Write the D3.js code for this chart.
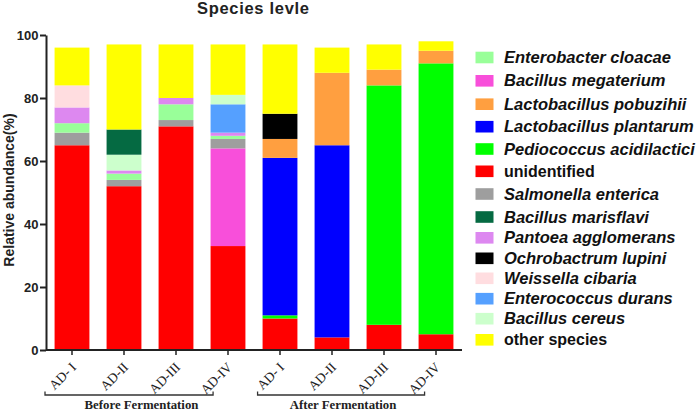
<!DOCTYPE html>
<html><head><meta charset="utf-8">
<script src="https://cdn.jsdelivr.net/npm/d3@7"></script>
<style>body{margin:0;background:#fff}svg{display:block}</style>
</head><body><svg id="c" width="700" height="411"></svg>
<script>
const samples = ["b1","b2","b3","b4","a1","a2","a3","a4"];
const sampleLabels = ["AD- I","AD-II","AD-III","AD-IV","AD- I","AD-II","AD-III","AD-IV"];
const groupLabels = ["Before Fermentation","After Fermentation"];
const yTicks = [0,20,40,60,80,100];

// stack order bottom -> top
const stackOrder = ["unidentified","Pediococcus acidilactici","Lactobacillus plantarum","Bacillus megaterium",
  "Salmonella enterica","Enterobacter cloacae","Pantoea agglomerans","Enterococcus durans","Bacillus cereus",
  "Bacillus marisflavi","Lactobacillus pobuzihii","Ochrobactrum lupini","Weissella cibaria","other species"];

const unidentified = [65,52,71,33,10,4,8,5];
const pediococcus  = [0,0,0,0,1,0,76,86];
const plantarum    = [0,0,0,0,50,61,0,0];
const megaterium   = [0,0,0,31,0,0,0,0];
const salmonella   = [4,2,2,3,0,0,0,0];
const enterobacter = [3,2,5,1,0,0,0,0];
const pantoea      = [5,1,2,1,0,0,0,0];
const enterococcus = [0,0,0,9,0,0,0,0];
const cereus       = [0,5,0,3,0,0,0,0];
const marisflavi   = [0,8,0,0,0,0,0,0];
const pobuzihii    = [0,0,0,0,6,23,5,4];
const ochrobactrum = [0,0,0,0,8,0,0,0];
const weissella    = [7,0,0,0,0,0,0,0];
const other        = [12,27,17,16,22,8,8,3];

const seriesValues = {
  "unidentified": unidentified, "Pediococcus acidilactici": pediococcus, "Lactobacillus plantarum": plantarum,
  "Bacillus megaterium": megaterium, "Salmonella enterica": salmonella, "Enterobacter cloacae": enterobacter,
  "Pantoea agglomerans": pantoea, "Enterococcus durans": enterococcus, "Bacillus cereus": cereus,
  "Bacillus marisflavi": marisflavi, "Lactobacillus pobuzihii": pobuzihii, "Ochrobactrum lupini": ochrobactrum,
  "Weissella cibaria": weissella, "other species": other
};

const legendOrder = ["Enterobacter cloacae","Bacillus megaterium","Lactobacillus pobuzihii","Lactobacillus plantarum",
  "Pediococcus acidilactici","unidentified","Salmonella enterica","Bacillus marisflavi","Pantoea agglomerans",
  "Ochrobactrum lupini","Weissella cibaria","Enterococcus durans","Bacillus cereus","other species"];
const nonItalic = ["unidentified","other species"];

const colors = {
  "Enterobacter cloacae":"#99FF99","Bacillus megaterium":"#F84FDA","Lactobacillus pobuzihii":"#FF9F40",
  "Lactobacillus plantarum":"#0000FF","Pediococcus acidilactici":"#00FF00","unidentified":"#FF0000",
  "Salmonella enterica":"#9E9E9E","Bacillus marisflavi":"#056A42","Pantoea agglomerans":"#DD88F0",
  "Ochrobactrum lupini":"#000000","Weissella cibaria":"#FFDDE0","Enterococcus durans":"#55A0FF",
  "Bacillus cereus":"#CCFFCC","other species":"#FFFF00"
};

const SANS = "'Liberation Sans', Arial, Helvetica, sans-serif";
const SERIF = "'Liberation Serif', 'Times New Roman', serif";

const svg = d3.select("#c");
const x0 = 46, x1 = 462, yTop = 35, yBot = 350;
const x = d3.scaleBand().domain(samples).range([x0, x1]).paddingInner(0.33).paddingOuter(0.165);
const y = d3.scaleLinear().domain([0,100]).range([yBot, yTop]);

const table = samples.map((s,i) => { const o = {sample:s}; stackOrder.forEach(k => o[k] = seriesValues[k][i]); return o; });
const stacked = d3.stack().keys(stackOrder)(table);

svg.append("g").selectAll("g").data(stacked).join("g")
  .attr("fill", d => colors[d.key])
  .selectAll("rect").data(d => d).join("rect")
  .attr("x", d => x(d.data.sample))
  .attr("width", x.bandwidth())
  .attr("y", d => y(d[1]))
  .attr("height", d => Math.max(0, y(d[0]) - y(d[1])));

// y axis
const ya = svg.append("g").attr("transform", `translate(${x0},0)`)
  .call(d3.axisLeft(y).tickValues(yTicks).tickSize(6).tickSizeOuter(0).tickPadding(1.5));
ya.select(".domain").attr("stroke","#222").attr("stroke-width",2);
ya.selectAll(".tick line").attr("stroke","#222").attr("stroke-width",2);
ya.selectAll(".tick text").attr("font-family",SANS).attr("font-weight","bold")
  .attr("font-size","13px").attr("fill","#222");

// x axis
const xa = svg.append("g").attr("transform", `translate(0,${yBot})`)
  .call(d3.axisBottom(x).tickFormat((d,i) => sampleLabels[i]).tickSize(5).tickSizeOuter(0));
xa.select(".domain").attr("stroke","#222").attr("stroke-width",2).attr("d", `M${x0},0H${x1}`);
xa.selectAll(".tick line").attr("stroke","#222").attr("stroke-width",1.5);
xa.selectAll(".tick text")
  .attr("font-family",SERIF).attr("font-size","13.5px").attr("fill","#222")
  .attr("text-anchor","end").attr("dy",null).attr("y",null)
  .attr("transform","translate(5,18) rotate(-45)");

// group brackets
const groups = [
  {label: groupLabels[0], from: x0 - 1, to: x(samples[3]) + 2.5, tx: 141.5},
  {label: groupLabels[1], from: x(samples[4]) - 5, to: x(samples[7]) + 6, tx: 343}
];
const bracketY = 395;
groups.forEach(g => {
  svg.append("path").attr("d", `M${g.from},${bracketY-3.5}V${bracketY}H${g.to}V${bracketY-3.5}`)
    .attr("fill","none").attr("stroke","#333").attr("stroke-width",1.3);
  svg.append("text").attr("x", g.tx).attr("y", 409).attr("text-anchor","middle")
    .attr("font-family",SERIF).attr("font-weight","bold")
    .attr("font-size","12.8px").attr("fill","#222").text(g.label);
});

// title
svg.append("text").attr("x", 253).attr("y", 14).attr("text-anchor","middle")
  .attr("font-family",SANS).attr("font-weight","bold").attr("font-size","16.5px")
  .attr("textLength",112).attr("lengthAdjust","spacing")
  .attr("fill","#222").text("Species levle");

// y title
svg.append("text").attr("transform","translate(14,190) rotate(-90)").attr("text-anchor","middle")
  .attr("font-family",SANS).attr("font-weight","bold").attr("font-size","14px")
  .attr("fill","#222").text("Relative abundance(%)");

// legend
const legendY = [57.5,80.8,104.2,126.7,149,171.3,194,217,237.8,258.3,278.3,298.7,318.7,339.8];
const lg = svg.append("g");
legendOrder.forEach((k,i) => {
  const cy = legendY[i];
  lg.append("rect").attr("x",475.5).attr("y",cy-5.8).attr("width",18).attr("height",11.6).attr("fill",colors[k]);
  lg.append("text").attr("x",504).attr("y",cy+5.6)
    .attr("font-family",SANS).attr("font-weight","bold")
    .attr("font-style", nonItalic.includes(k) ? "normal" : "italic")
    .attr("font-size", nonItalic.includes(k) ? "16px" : "16.5px").attr("fill","#111").text(k);
});
</script></body></html>
